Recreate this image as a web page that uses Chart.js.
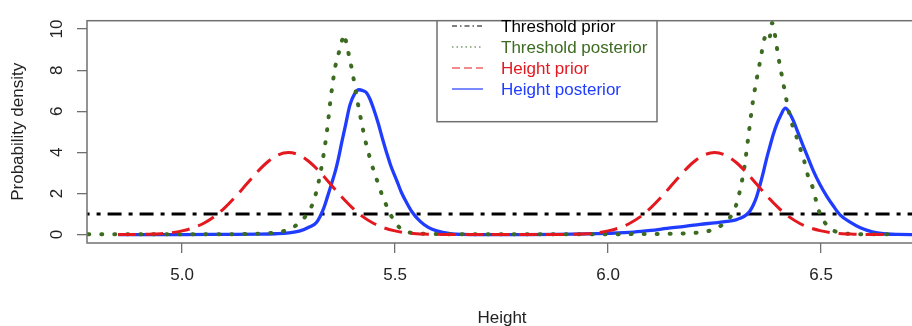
<!DOCTYPE html>
<html>
<head>
<meta charset="utf-8">
<script src="https://cdn.jsdelivr.net/npm/chart.js@4.4.1/dist/chart.umd.min.js"></script>
<style>
  html, body { margin: 0; padding: 0; background: #fff; overflow: hidden; width: 912px; height: 326px; }
  canvas { display: block; }
</style>
</head>
<body>
<canvas id="c" width="920" height="326"></canvas>
<script>
// ---------- data ----------
const seriesNames = ['Threshold prior', 'Threshold posterior', 'Height prior', 'Height posterior'];

const thresholdPriorX = [4.6, 6.9];
const thresholdPriorY = [1, 1];

const thresholdPostX = [4.78, 4.9, 5.0, 5.1, 5.15, 5.19, 5.22, 5.24, 5.26, 5.28, 5.29, 5.30, 5.31, 5.32, 5.33, 5.34, 5.35, 5.36, 5.37, 5.375, 5.38, 5.385, 5.39, 5.40, 5.41, 5.42, 5.43, 5.44, 5.45, 5.46, 5.47, 5.48, 5.49, 5.50, 5.51, 5.52, 5.54, 5.57, 5.62, 5.7, 5.8, 5.9, 6.0, 6.1, 6.18, 6.22, 6.24, 6.255, 6.27, 6.28, 6.29, 6.30, 6.31, 6.32, 6.33, 6.34, 6.35, 6.36, 6.365, 6.372, 6.378, 6.385, 6.39, 6.40, 6.41, 6.42, 6.43, 6.44, 6.45, 6.46, 6.47, 6.48, 6.49, 6.50, 6.51, 6.52, 6.53, 6.55, 6.58, 6.62, 6.66];
const thresholdPostY = [0.02, 0.02, 0.02, 0.02, 0.03, 0.05, 0.10, 0.18, 0.35, 0.65, 0.9, 1.2, 1.7, 2.5, 3.6, 5.0, 6.8, 8.2, 9.0, 9.4, 9.75, 9.4, 8.9, 7.9, 6.7, 5.6, 4.6, 3.8, 3.1, 2.5, 1.9, 1.4, 0.95, 0.6, 0.35, 0.18, 0.08, 0.04, 0.02, 0.02, 0.02, 0.02, 0.02, 0.03, 0.06, 0.12, 0.2, 0.33, 0.5, 0.7, 0.95, 1.4, 2.2, 3.3, 4.9, 6.5, 7.7, 8.8, 9.4, 9.7, 9.5, 10.3, 9.9, 8.6, 7.5, 6.4, 5.5, 4.9, 4.25, 3.6, 2.8, 2.3, 1.5, 0.85, 0.55, 0.3, 0.18, 0.07, 0.03, 0.01, 0.01];

const heightPriorX = [4.85, 4.875, 4.9, 4.925, 4.95, 4.975, 5.0, 5.025, 5.05, 5.075, 5.1, 5.125, 5.15, 5.175, 5.2, 5.225, 5.25, 5.275, 5.3, 5.325, 5.35, 5.375, 5.4, 5.425, 5.45, 5.475, 5.5, 5.525, 5.55, 5.575, 5.6, 5.625, 5.65, 5.75, 5.85, 5.875, 5.9, 5.925, 5.95, 5.975, 6.0, 6.025, 6.05, 6.075, 6.1, 6.125, 6.15, 6.175, 6.2, 6.225, 6.25, 6.275, 6.3, 6.325, 6.35, 6.375, 6.4, 6.425, 6.45, 6.475, 6.5, 6.525, 6.55, 6.575, 6.6, 6.625, 6.65];
const heightPriorY = [0.00, 0.00, 0.01, 0.02, 0.04, 0.09, 0.18, 0.32, 0.54, 0.86, 1.30, 1.83, 2.42, 3.01, 3.52, 3.87, 3.99, 3.87, 3.52, 3.01, 2.42, 1.83, 1.30, 0.86, 0.54, 0.32, 0.18, 0.09, 0.04, 0.02, 0.01, 0.00, 0.00, 0.00, 0.00, 0.00, 0.01, 0.02, 0.04, 0.09, 0.18, 0.32, 0.54, 0.86, 1.30, 1.83, 2.42, 3.01, 3.52, 3.87, 3.99, 3.87, 3.52, 3.01, 2.42, 1.83, 1.30, 0.86, 0.54, 0.32, 0.18, 0.09, 0.04, 0.02, 0.01, 0.00, 0.00];

const heightPostX = [4.85, 5.0, 5.1, 5.18, 5.22, 5.25, 5.277, 5.30, 5.316, 5.332, 5.34, 5.351, 5.36, 5.367, 5.375, 5.383, 5.394, 5.405, 5.415, 5.425, 5.433, 5.441, 5.45, 5.461, 5.47, 5.48, 5.49, 5.504, 5.515, 5.527, 5.54, 5.559, 5.578, 5.598, 5.63, 5.66, 5.7, 5.8, 5.88, 5.95, 6.0, 6.06, 6.1, 6.138, 6.18, 6.216, 6.25, 6.279, 6.3, 6.31, 6.322, 6.333, 6.341, 6.349, 6.357, 6.365, 6.372, 6.38, 6.388, 6.396, 6.405, 6.416, 6.425, 6.435, 6.446, 6.458, 6.47, 6.482, 6.497, 6.513, 6.53, 6.545, 6.57, 6.592, 6.62, 6.646, 6.68, 6.75];
const heightPostY = [0.0, 0.0, 0.01, 0.02, 0.04, 0.08, 0.18, 0.38, 0.6, 1.25, 1.75, 2.48, 3.1, 3.7, 4.5, 5.25, 6.3, 6.85, 7.05, 7.0, 6.9, 6.6, 6.1, 5.38, 4.7, 4.0, 3.35, 2.63, 2.05, 1.56, 1.1, 0.64, 0.35, 0.18, 0.05, 0.01, 0.0, 0.0, 0.01, 0.03, 0.06, 0.12, 0.2, 0.3, 0.4, 0.5, 0.57, 0.64, 0.72, 0.79, 0.92, 1.15, 1.45, 1.87, 2.45, 3.09, 3.7, 4.31, 4.9, 5.38, 5.8, 6.15, 5.95, 5.53, 4.95, 4.31, 3.7, 3.09, 2.45, 1.87, 1.35, 0.95, 0.58, 0.33, 0.13, 0.04, 0.01, 0.0];

const xTickValues = [5.0, 5.5, 6.0, 6.5];
const xTickLabels = ['5.0', '5.5', '6.0', '6.5'];
const yTickValues = [0, 2, 4, 6, 8, 10];
const yTickLabels = ['0', '2', '4', '6', '8', '10'];

const xAxisTitle = 'Height';
const yAxisTitle = 'Probability density';

// ---------- styling ----------
const FONT = '"Liberation Sans", Arial, Helvetica, sans-serif';
const FS = 17;
const AXIS_GRAY = '#707070';
const TEXT = '#222222';
const COL_BLACK = '#000000';
const COL_GREEN = '#3d6b22';
const COL_RED = '#e4181f';
const COL_BLUE = '#1f3cff';

function pts(xs, ys) { return xs.map((v, i) => ({ x: v, y: ys[i] })); }

const legendStyles = [
  { color: COL_BLACK, dash: [5, 3, 1.5, 3], text: COL_BLACK },
  { color: COL_GREEN, dash: [1.5, 3], text: COL_GREEN },
  { color: COL_RED, dash: [8, 4], text: COL_RED },
  { color: COL_BLUE, dash: [], text: COL_BLUE }
];

const frameLegendPlugin = {
  id: 'frameLegend',
  afterDraw(chart) {
    const ctx = chart.ctx;
    const a = chart.chartArea;
    ctx.save();
    // plot box
    ctx.strokeStyle = AXIS_GRAY;
    ctx.lineWidth = 1.5;
    ctx.setLineDash([]);
    ctx.strokeRect(a.left, a.top, a.right - a.left, a.bottom - a.top);
    // legend box
    const lx = 437, ly = a.top, lw = 220, lh = 101;
    ctx.fillStyle = '#ffffff';
    ctx.fillRect(lx, ly, lw, lh);
    ctx.strokeRect(lx, ly, lw, lh);
    ctx.font = FS + 'px ' + FONT;
    ctx.textBaseline = 'middle';
    ctx.textAlign = 'left';
    const rows = [26, 47, 68, 89];
    seriesNames.forEach((name, i) => {
      const s = legendStyles[i];
      ctx.strokeStyle = s.color;
      ctx.lineWidth = 1.2;
      ctx.setLineDash(s.dash);
      ctx.beginPath();
      ctx.moveTo(452, rows[i]);
      ctx.lineTo(483, rows[i]);
      ctx.stroke();
      ctx.fillStyle = s.text;
      ctx.fillText(name, 501, rows[i] + 1);
    });
    ctx.restore();
  }
};

new Chart(document.getElementById('c'), {
  type: 'line',
  data: {
    datasets: [
      {
        label: seriesNames[0], data: pts(thresholdPriorX, thresholdPriorY),
        borderColor: COL_BLACK, borderWidth: 3, borderDash: [14, 7, 4, 7], borderCapStyle: 'butt',
        pointRadius: 0, fill: false, order: 4, clip: 0
      },
      {
        label: seriesNames[1], data: pts(thresholdPostX, thresholdPostY),
        borderColor: COL_GREEN, borderWidth: 4, borderDash: [1, 12], borderCapStyle: 'round',
        pointRadius: 0, fill: false, cubicInterpolationMode: 'monotone', order: 2, clip: 0
      },
      {
        label: seriesNames[2], data: pts(heightPriorX, heightPriorY),
        borderColor: COL_RED, borderWidth: 3, borderDash: [18, 9], borderCapStyle: 'butt',
        pointRadius: 0, fill: false, cubicInterpolationMode: 'monotone', order: 1, clip: 0
      },
      {
        label: seriesNames[3], data: pts(heightPostX, heightPostY),
        borderColor: COL_BLUE, borderWidth: 3.3, borderDash: [],
        pointRadius: 0, fill: false, cubicInterpolationMode: 'monotone', order: 3, clip: 0
      }
    ]
  },
  options: {
    responsive: false,
    animation: false,
    events: [],
    layout: { padding: { top: 7, right: 3, left: 0, bottom: 0 } },
    plugins: { legend: { display: false }, tooltip: { enabled: false } },
    scales: {
      x: {
        type: 'linear', min: 4.777, max: 6.725,
        afterBuildTicks(s) { s.ticks = xTickValues.map(v => ({ value: v })); },
        afterFit(s) { s.height = 83; },
        grid: { drawOnChartArea: false, drawTicks: true, tickLength: 10, color: AXIS_GRAY, lineWidth: 1.3 },
        border: { display: false },
        ticks: {
          autoSkip: false, maxRotation: 0, minRotation: 0, padding: 12,
          color: TEXT, font: { family: FONT, size: FS },
          callback(v, i) { return xTickLabels[i]; }
        },
        title: {
          display: true, text: xAxisTitle, color: TEXT,
          font: { family: FONT, size: FS, lineHeight: 1 }, padding: { top: 0, bottom: -1 }
        }
      },
      y: {
        type: 'linear', min: -0.41, max: 10.41,
        afterBuildTicks(s) { s.ticks = yTickValues.map(v => ({ value: v })); },
        afterFit(s) { s.width = 87; },
        grid: { drawOnChartArea: false, drawTicks: true, tickLength: 10, color: AXIS_GRAY, lineWidth: 1.3 },
        border: { display: false },
        ticks: {
          autoSkip: false, minRotation: 90, maxRotation: 90, padding: 10.5, crossAlign: 'center',
          color: TEXT, font: { family: FONT, size: FS },
          callback(v, i) { return yTickLabels[i]; }
        },
        title: {
          display: true, text: yAxisTitle, color: TEXT,
          font: { family: FONT, size: FS, lineHeight: 1 }, padding: { top: 9.5, bottom: 0 }
        }
      }
    }
  },
  plugins: [frameLegendPlugin]
});
</script>
</body>
</html>
